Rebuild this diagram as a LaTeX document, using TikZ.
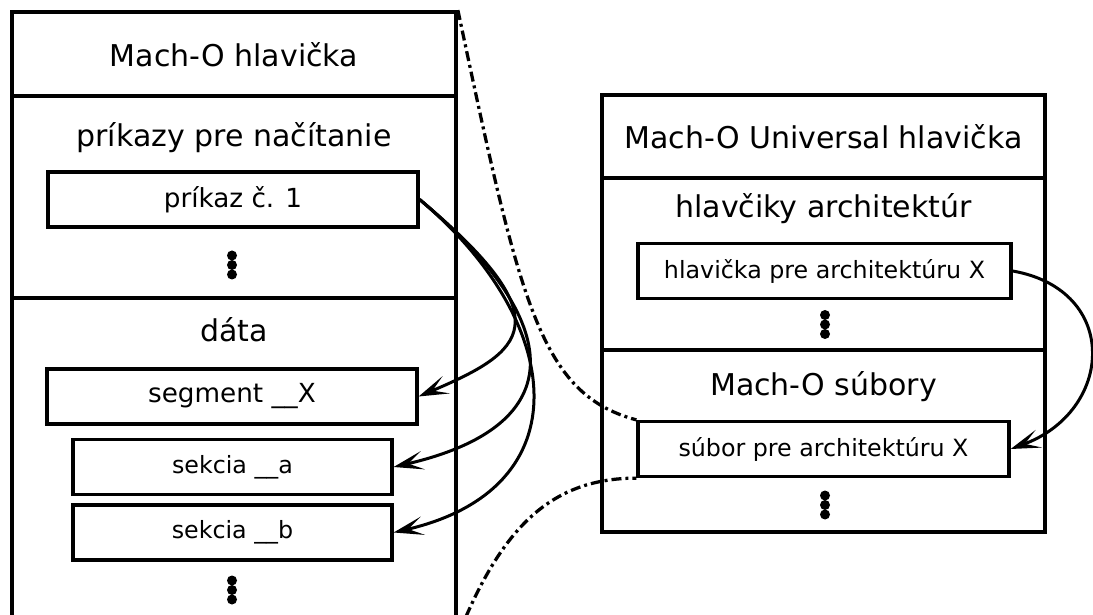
\documentclass[tikz,border=0pt]{standalone}
\usepackage{fontspec}
\setmainfont{DejaVu Sans}
\usetikzlibrary{arrows.meta}

\begin{document}
\begin{tikzpicture}[x = 0.4pt, y = 0.4pt,
  frame/.style = {draw, line width = 1.5pt, inner sep = 0},
  title/.style = {font = \fontsize{12}{14}\selectfont},
  item/.style = {draw, line width = 1.3pt, inner sep = 0, minimum height = 22pt, font = \fontsize{9.5}{11}\selectfont},
  bigitem/.style = {item, font = \fontsize{10.5}{12}\selectfont},
  link/.style = {line width = 1.2pt, -{Stealth[length = 12pt, width = 7.5pt, inset = 6pt]}},
  zoomline/.style = {line width = 1.3pt, dash pattern = on 4pt off 1.6pt on 1.2pt off 1.6pt}]
 \useasboundingbox (0, 0) rectangle (1093, 614);
 \clip (0, 0) rectangle (1093, 614);
 \node[frame, minimum width = 177.6pt, minimum height = 248.8pt] (macho) at (234, 291) {};
 \node[frame, minimum width = 177.2pt, minimum height = 174.8pt] (universal) at (823.5, 300.5) {};
 \draw[line width = 1.5pt] (12, 518) -- (456, 518) (12, 316) -- (456, 316);
 \draw[line width = 1.5pt] (602, 436) -- (1045, 436) (602, 264) -- (1045, 264);
 \node[title] (machdr) at (234, 559) {Mach-O hlavička};
 \node[title] (cmds) at (234, 476) {príkazy pre načítanie};
 \node[title] (data) at (234, 284) {dáta};
 \node[title] (unihdr) at (823.5, 477) {Mach-O Universal hlavička};
 \node[title] (archhdrs) at (823.5, 405) {hlavčiky architektúr};
 \node[title] (files) at (823.5, 227) {Mach-O súbory};
 \node[bigitem, minimum width = 148pt] (cmd) at (233, 414.5) {príkaz č. 1};
 \node[bigitem, minimum width = 148pt] (seg) at (232, 217.5) {segment \_\_X};
 \node[item, minimum width = 127.6pt] (secta) at (232.5, 147) {sekcia \_\_a};
 \node[item, minimum width = 127.6pt] (sectb) at (232.5, 81.5) {sekcia \_\_b};
 \node[item, minimum width = 149.2pt] (archhdr) at (824.5, 343) {hlavička pre architektúru X};
 \node[item, minimum width = 148.4pt] (archfile) at (823.5, 165) {súbor pre architektúru X};
 \foreach \x/\y in {232/349, 232/24, 825/289.5, 825/109}
  \foreach \d in {-9.5, 0, 9.5}
   \fill (\x, \y + \d) circle [radius = 2pt];
 \draw[link] (cmd.east) to [out = -40, in = 23, out distance = 76pt, in distance = 46pt] (seg.east);
 \draw[link] (cmd.east) to [out = -40, in = 13, out distance = 76pt, in distance = 74pt] (secta.east);
 \draw[link] (cmd.east) to [out = -40, in = 13, out distance = 76pt, in distance = 78pt] (sectb.east);
 \draw[link] (archhdr.east) to [out = -10, in = 20, out distance = 44pt, in distance = 44pt] (archfile.east);
 \draw[zoomline] (macho.north east) to [out = -78, in = 165, out distance = 120pt, in distance = 40pt] (archfile.north west);
 \draw[zoomline] (macho.south east) to [out = 68, in = 180, out distance = 44pt, in distance = 36pt] (archfile.south west);
\end{tikzpicture}
\end{document}
